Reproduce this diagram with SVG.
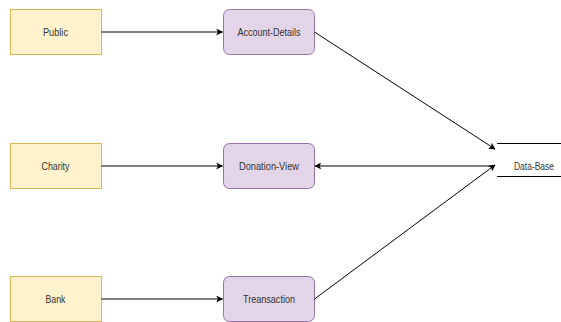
<svg xmlns="http://www.w3.org/2000/svg" width="561" height="322" viewBox="0 0 561 322">
<defs>
<style>
.src{fill:#fff2cc;stroke:#d6b656;stroke-width:1}
.proc{fill:#e1d5e7;stroke:#9673a6;stroke-width:1}
.t{font-family:"Liberation Sans",Arial,sans-serif;font-size:11.5px;fill:#333;text-anchor:middle;dominant-baseline:central}
.e{stroke:#000;stroke-width:1;fill:none;marker-end:url(#ah)}
</style>
<marker id="ah" viewBox="0 0 10 10" refX="9" refY="5" markerWidth="7" markerHeight="7" markerUnits="userSpaceOnUse" orient="auto">
<path d="M0,0 L10,5 L0,10 L2.5,5 Z" fill="#000"/>
</marker>
</defs>
<rect width="561" height="322" fill="#fff"/>
<g id="public"><rect class="src" x="10.5" y="9.5" width="91" height="45"/><text class="t" x="55.5" y="32" textLength="25" lengthAdjust="spacingAndGlyphs">Public</text></g>
<g id="charity"><rect class="src" x="10.5" y="143.5" width="91" height="45"/><text class="t" x="55.5" y="166" textLength="28" lengthAdjust="spacingAndGlyphs">Charity</text></g>
<g id="bank"><rect class="src" x="10.5" y="276.5" width="91" height="45"/><text class="t" x="55.5" y="299" textLength="20" lengthAdjust="spacingAndGlyphs">Bank</text></g>
<g id="account-details"><rect class="proc" x="223.5" y="9.5" width="91" height="45" rx="6"/><text class="t" x="269" y="32" textLength="63" lengthAdjust="spacingAndGlyphs">Account-Details</text></g>
<g id="donation-view"><rect class="proc" x="223.5" y="143.5" width="91" height="45" rx="6"/><text class="t" x="269" y="166" textLength="60" lengthAdjust="spacingAndGlyphs">Donation-View</text></g>
<g id="transaction"><rect class="proc" x="223.5" y="276.5" width="91" height="45" rx="6"/><text class="t" x="269" y="299" textLength="52" lengthAdjust="spacingAndGlyphs">Treansaction</text></g>
<g id="data-base"><path d="M497,143.5 H561 M497,176.5 H561" stroke="#000" stroke-width="1"/><text class="t" x="534" y="166" style="font-size:10.5px" textLength="40" lengthAdjust="spacingAndGlyphs">Data-Base</text></g>
<g id="connectors">
<path class="e" d="M101.5,32 H222.5"/>
<path class="e" d="M101.5,166 H222.5"/>
<path class="e" d="M101.5,299 H222.5"/>
<path class="e" d="M314.5,32 L495,149"/>
<path class="e" d="M495,166 H315"/>
<path class="e" d="M314.5,299 L495,165"/>
</g>
</svg>
